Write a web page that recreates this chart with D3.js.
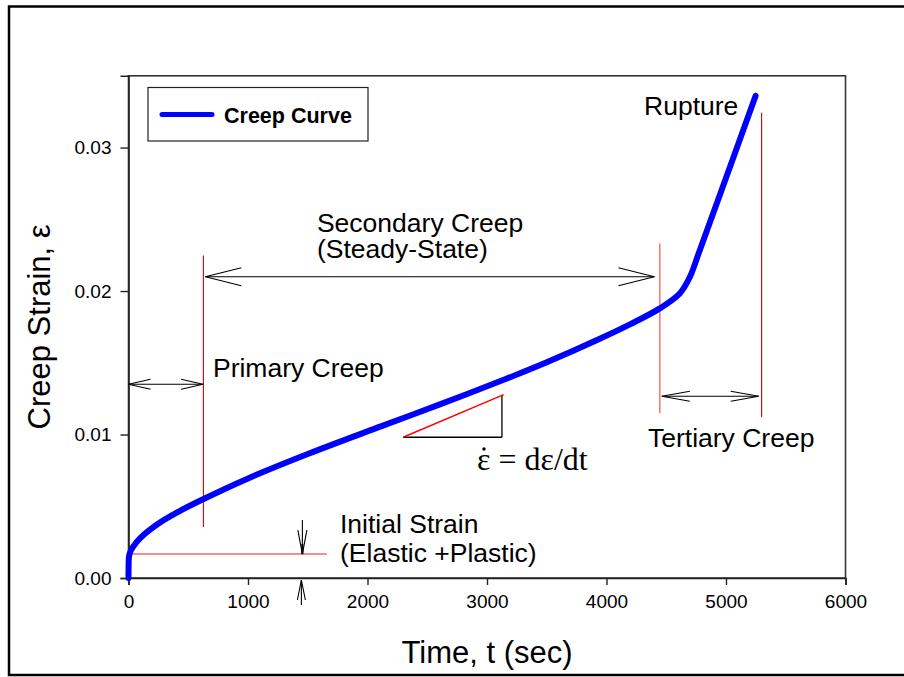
<!DOCTYPE html>
<html>
<head>
<meta charset="utf-8">
<script src="https://cdn.jsdelivr.net/npm/d3@7/dist/d3.min.js"></script>
<style>
  html, body { margin: 0; padding: 0; background: #fff; }
  svg { display: block; }
  text { font-family: "Liberation Sans", Arial, sans-serif; fill: #000; }
</style>
</head>
<body>
<svg id="chart" width="904" height="677"></svg>
<script>
// Creep curve: time (s) vs creep strain
const times   = [0, 1, 3, 8, 20, 40, 100, 242, 409, 602, 1000, 1500, 2106, 2600, 3167, 3500, 3944, 4200, 4446, 4613, 4696, 4780, 5248];
const strains = [0, 0.0009, 0.0014, 0.00165, 0.00192, 0.0022, 0.0028, 0.00375, 0.00458, 0.0054, 0.00694, 0.00864, 0.01055, 0.01208, 0.0139, 0.01503, 0.01667, 0.01769, 0.01879, 0.01983, 0.02095, 0.02283, 0.03361];

const xTicks = [0, 1000, 2000, 3000, 4000, 5000, 6000];
const yTicks = [0, 0.01, 0.02, 0.03];

// Stage boundaries (time) and reference strains
const initialStrain = 0.00167;
const primaryEnd = 627;
const secondaryEnd = 4446;
const ruptureTime = 5298;

const svg = d3.select("#chart");

// outer figure frame
svg.append("rect")
  .attr("x", 9).attr("y", 6.5).attr("width", 920).attr("height", 668.5)
  .attr("fill", "none").attr("stroke", "#000").attr("stroke-width", 2.5);

const x = d3.scaleLinear().domain([0, 6000]).range([128.5, 845.5]);
const y = d3.scaleLinear().domain([0, 0.035]).range([578, 75.8]);

// plot frame
svg.append("rect")
  .attr("x", x(0)).attr("y", y(0.035))
  .attr("width", x(6000) - x(0)).attr("height", y(0) - y(0.035))
  .attr("fill", "none").attr("stroke", "#333").attr("stroke-width", 1.6);

const xAxis = svg.append("g")
  .attr("transform", `translate(0,${y(0)})`)
  .call(d3.axisBottom(x).tickValues(xTicks).tickSize(7).tickPadding(10).tickFormat(d3.format("d")));
const yAxis = svg.append("g")
  .attr("transform", `translate(${x(0)},0)`)
  .call(d3.axisLeft(y).tickValues(yTicks).tickSize(8).tickPadding(9).tickFormat(d3.format(".2f")));

[xAxis, yAxis].forEach(g => {
  g.select(".domain").attr("stroke", "#222").attr("stroke-width", 1.6);
  g.selectAll(".tick line").attr("stroke", "#222").attr("stroke-width", 1.4);
  g.selectAll(".tick text").style("font-family", "'Liberation Sans', Arial, sans-serif").style("font-size", "19px").attr("fill", "#000");
});

// axis titles
svg.append("text")
  .attr("x", (x(0) + x(6000)) / 2).attr("y", 663)
  .attr("text-anchor", "middle").style("font-size", "31px")
  .text("Time, t (sec)");
svg.append("text")
  .attr("transform", `translate(50,${(y(0) + y(0.035)) / 2}) rotate(-90)`)
  .attr("text-anchor", "middle").style("font-size", "31px")
  .text("Creep Strain, ε");

// annotation helpers
function seg(t1, e1, t2, e2, color, w) {
  svg.append("line")
    .attr("x1", x(t1)).attr("y1", y(e1)).attr("x2", x(t2)).attr("y2", y(e2))
    .attr("stroke", color).attr("stroke-width", w);
}
function head(px, py, dx, dy, len, half) {
  // open "V" arrow head at (px,py) pointing along (dx,dy)
  const n = Math.hypot(dx, dy), ux = dx / n, uy = dy / n;
  const bx = px - ux * len, by = py - uy * len;
  svg.append("path")
    .attr("d", `M${bx - uy * half},${by + ux * half}L${px},${py}L${bx + uy * half},${by - ux * half}`)
    .attr("fill", "none").attr("stroke", "#000").attr("stroke-width", 1.1);
}
function dblArrow(t1, t2, e, len, half) {
  const x1 = x(t1), x2 = x(t2), yy = y(e);
  svg.append("line").attr("x1", x1).attr("y1", yy).attr("x2", x2).attr("y2", yy)
    .attr("stroke", "#000").attr("stroke-width", 1.1);
  head(x1, yy, -1, 0, len, half);
  head(x2, yy, 1, 0, len, half);
}

// stage boundaries
seg(25, initialStrain, 1660, initialStrain, "#ff6464", 1.5);
seg(primaryEnd, 0.00355, primaryEnd, 0.02248, "#e00000", 1.1);
seg(secondaryEnd, 0.01148, secondaryEnd, 0.02331, "#ff7070", 1.5);
seg(ruptureTime, 0.0112, ruptureTime, 0.03243, "#d00000", 1.1);

// stage arrows
dblArrow(0, primaryEnd - 3, 0.0135, 22, 5);
dblArrow(643, secondaryEnd - 45, 0.0210, 36, 9);
dblArrow(secondaryEnd + 17, ruptureTime - 24, 0.01267, 28, 5);

// initial strain pointers
{
  const tx = x(1455);
  svg.append("line").attr("x1", tx).attr("y1", y(initialStrain) - 34).attr("x2", tx).attr("y2", y(initialStrain))
    .attr("stroke", "#000").attr("stroke-width", 1.1);
  svg.append("line").attr("x1", tx).attr("y1", y(initialStrain) - 10).attr("x2", tx).attr("y2", y(initialStrain))
    .attr("stroke", "#000").attr("stroke-width", 2);
  head(tx, y(initialStrain), 0, 1, 24, 4.5);
  svg.append("line").attr("x1", tx - 1).attr("y1", y(0) + 27).attr("x2", tx - 1).attr("y2", y(0) + 2)
    .attr("stroke", "#000").attr("stroke-width", 1.1);
  head(tx - 1, y(0) + 2, 0, -1, 20, 4);
}

// slope triangle
seg(2298, 0.00981, 3125, 0.00981, "#000", 1.3);
seg(3125, 0.00981, 3125, 0.01273, "#000", 1.3);
seg(2298, 0.00981, 3140, 0.01278, "#ff0000", 1.4);

// creep curve
svg.append("path")
  .datum(times.map((t, i) => [t, strains[i]]))
  .attr("d", d3.line().x(d => x(d[0])).y(d => y(d[1])).curve(d3.curveCatmullRom.alpha(0.5)))
  .attr("fill", "none").attr("stroke", "#0000ff").attr("stroke-width", 6)
  .attr("stroke-linecap", "round").attr("stroke-linejoin", "round");

// labels
function label(t, e, txt) {
  svg.append("text").attr("x", x(t)).attr("y", y(e)).style("font-size", "26.5px").text(txt);
}
label(4314, 0.03227, "Rupture");
label(1577, 0.02411, "Secondary Creep");
label(1577, 0.0223, "(Steady-State)");
label(707, 0.01401, "Primary Creep");
label(4347, 0.00913, "Tertiary Creep");
label(1770, 0.00314, "Initial Strain");
label(1770, 0.00112, "(Elastic +Plastic)");

// strain-rate formula: epsilon with a dot above
{
  const fx = x(2916), fy = y(0.00753);
  svg.append("text").attr("x", fx).attr("y", fy)
    .style("font-family", "'Liberation Serif', 'Times New Roman', serif").style("font-size", "32px")
    .text("ε = dε/dt");
  svg.append("circle").attr("cx", fx + 7).attr("cy", fy - 21).attr("r", 1.7).attr("fill", "#000");
}

// legend
{
  const lg = svg.append("g");
  lg.append("rect").attr("x", 148).attr("y", 87.5).attr("width", 220).attr("height", 53.5)
    .attr("fill", "#fff").attr("stroke", "#222").attr("stroke-width", 1.2);
  lg.append("line").attr("x1", 162).attr("y1", 114.5).attr("x2", 212).attr("y2", 114.5)
    .attr("stroke", "#0000ff").attr("stroke-width", 5).attr("stroke-linecap", "round");
  lg.append("text").attr("x", 224).attr("y", 122.5)
    .style("font-size", "21.5px").style("font-weight", "bold").text("Creep Curve");
}
</script>
</body>
</html>
